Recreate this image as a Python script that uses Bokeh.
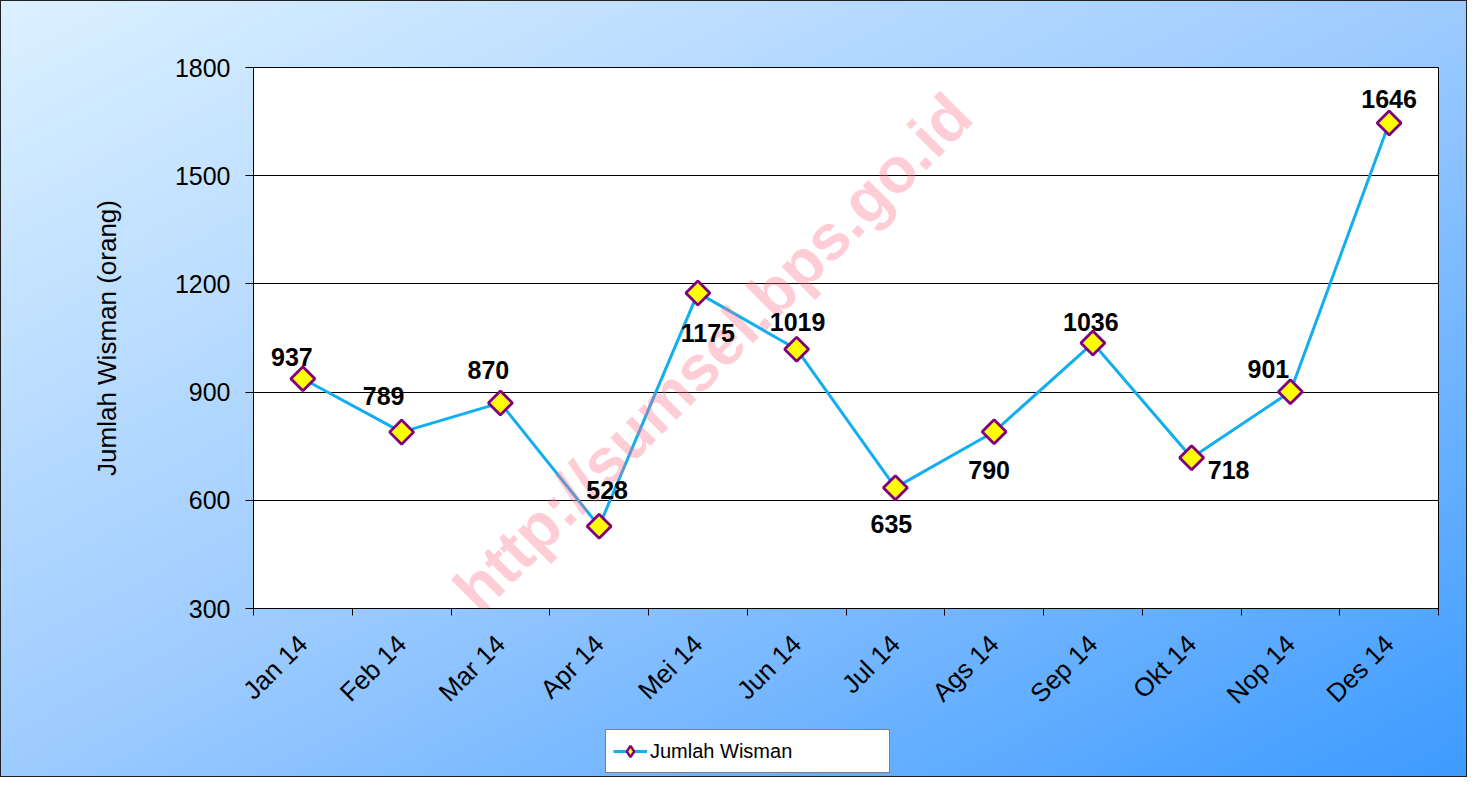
import math
from bokeh.plotting import figure
from bokeh.layouts import column, row
from bokeh.models import (Range1d, FixedTicker, Legend, LegendItem, ColumnDataSource,
                          Label, LabelSet, Spacer)
from bokeh.embed import file_html
from bokeh.resources import INLINE
from bokeh.core.properties import value

# ---- data ----
months = ["Jan 14", "Feb 14", "Mar 14", "Apr 14", "Mei 14", "Jun 14",
          "Jul 14", "Ags 14", "Sep 14", "Okt 14", "Nop 14", "Des 14"]
wisman = [937, 789, 870, 528, 1175, 1019, 635, 790, 1036, 718, 901, 1646]
y_ticks = [300, 600, 900, 1200, 1500, 1800]
series_name = "Jumlah Wisman"
y_title = "Jumlah Wisman (orang)"
watermark = "http://sumsel.bps.go.id"

# label offsets in screen px (style): dx right, dy up
label_dx = [-11, -18, -12, 8, 10, 1, -4, -5, -2, 37, -22, 0]
label_dy = [22, 36, 33, 36, -40, 27, -36, -38, 21, -12, 23, 24]

FONT = "Liberation Sans"
LINE_COLOR = "#12aef0"
n = len(months)
x_pos = [i + 0.5 for i in range(n)]
src = ColumnDataSource(dict(x=x_pos, y=wisman, txt=[str(v) for v in wisman],
                            dx=label_dx, dy=label_dy))

W, H = 1467, 777
LEG_TOP, LEG_LEFT, LW, LH = 727, 603, 290, 46
PH = LEG_TOP
p = figure(width=W, height=PH, x_range=Range1d(0, n), y_range=Range1d(300, 1800),
           output_backend="svg", toolbar_location=None,
           min_border_left=253, min_border_right=W - 1438, min_border_top=67,
           min_border_bottom=PH - 608,
           border_fill_color=None, background_fill_color="white",
           outline_line_color="black", outline_line_width=1)

# x axis: labels at centres, tick marks at boundaries
p.xaxis.ticker = FixedTicker(ticks=x_pos, minor_ticks=list(range(n + 1)))
p.xaxis.major_label_overrides = {x: m for x, m in zip(x_pos, months)}
p.xaxis.major_tick_out = 0
p.xaxis.major_tick_in = 0
p.xaxis.minor_tick_out = 7
p.xaxis.minor_tick_in = 0
p.xaxis.minor_tick_line_color = "black"
p.xaxis.axis_line_color = "black"
p.xaxis.major_label_orientation = math.pi / 4
p.xaxis.major_label_text_font = FONT
p.xaxis.major_label_text_font_size = "26px"
p.xaxis.major_label_text_color = "black"
p.xaxis.major_label_standoff = 24
p.xgrid.visible = False

# y axis
p.yaxis.ticker = FixedTicker(ticks=y_ticks)
p.yaxis.major_tick_out = 8
p.yaxis.major_tick_in = 0
p.yaxis.minor_tick_line_color = None
p.yaxis.axis_line_color = "black"
p.yaxis.major_label_text_font = FONT
p.yaxis.major_label_text_font_size = "25px"
p.yaxis.major_label_text_color = "black"
p.yaxis.major_label_standoff = 15
p.yaxis.axis_label = y_title
p.yaxis.axis_label_text_font = FONT
p.yaxis.axis_label_text_font_size = "26px"
p.yaxis.axis_label_text_font_style = "normal"
p.yaxis.axis_label_text_color = "black"
p.yaxis.axis_label_standoff = 50
p.ygrid.ticker = FixedTicker(ticks=y_ticks)
p.ygrid.grid_line_color = "black"
p.ygrid.grid_line_width = 1

# series
line_style = dict(line_color=LINE_COLOR, line_width=3)
marker_style = dict(marker="square", angle=math.pi / 4, size=17,
                    fill_color="#ffff00", line_color="#800080", line_width=2.8)
ln = p.line("x", "y", source=src, **line_style)
mk = p.scatter("x", "y", source=src, **marker_style)

# watermark
p.add_layout(Label(x=4.65, y=1010, text=watermark, angle=math.pi / 4,
                   text_align="center", text_baseline="middle",
                   text_font=FONT, text_font_style="bold", text_font_size="64px",
                   text_color="#ff6f88", text_alpha=0.35))

# data labels
p.add_layout(LabelSet(x="x", y="y", text="txt", source=src, x_offset="dx", y_offset="dy",
                      text_align="center", text_baseline="middle",
                      text_font=value(FONT), text_font_style="bold", text_font_size="25px",
                      text_color="black"))

# legend, in a small figure placed under the x axis; its ranges keep the
# series itself out of view so that only the legend box shows
lg = figure(width=LW, height=LH, output_backend="svg", toolbar_location=None,
            x_range=Range1d(-20, -19), y_range=Range1d(-20, -19),
            x_axis_type=None, y_axis_type=None, min_border=0,
            border_fill_color=None, background_fill_color=None, outline_line_color=None)
lg.grid.visible = False
l2 = lg.line("x", "y", source=src, **line_style)
m2 = lg.scatter("x", "y", source=src, marker="diamond", size=17,
                fill_color="#ffff00", line_color="#800080", line_width=2.5)
legend = Legend(items=[LegendItem(label=series_name, renderers=[l2, m2], index=0)],
                location="top_left", orientation="vertical",
                border_line_color="black", border_line_width=1.5,
                background_fill_color="white", background_fill_alpha=1,
                label_text_font=FONT, label_text_font_size="20px",
                label_text_color="black", glyph_width=34, glyph_height=28,
                label_width=232, padding=7, margin=2, label_standoff=3, spacing=0)
lg.add_layout(legend, "center")

layout = column(p,
                row(Spacer(width=LEG_LEFT, height=LH), lg, spacing=0),
                Spacer(width=W, height=H - PH - LH),
                spacing=0)
layout.styles = {"background": "linear-gradient(to bottom right, #dcf1ff 0%, #9dcbff 50%, #3d9bff 100%)",
                 "outline": "1px solid #222", "outline-offset": "-1px"}
open("out.html", "w").write(file_html(layout, INLINE))
